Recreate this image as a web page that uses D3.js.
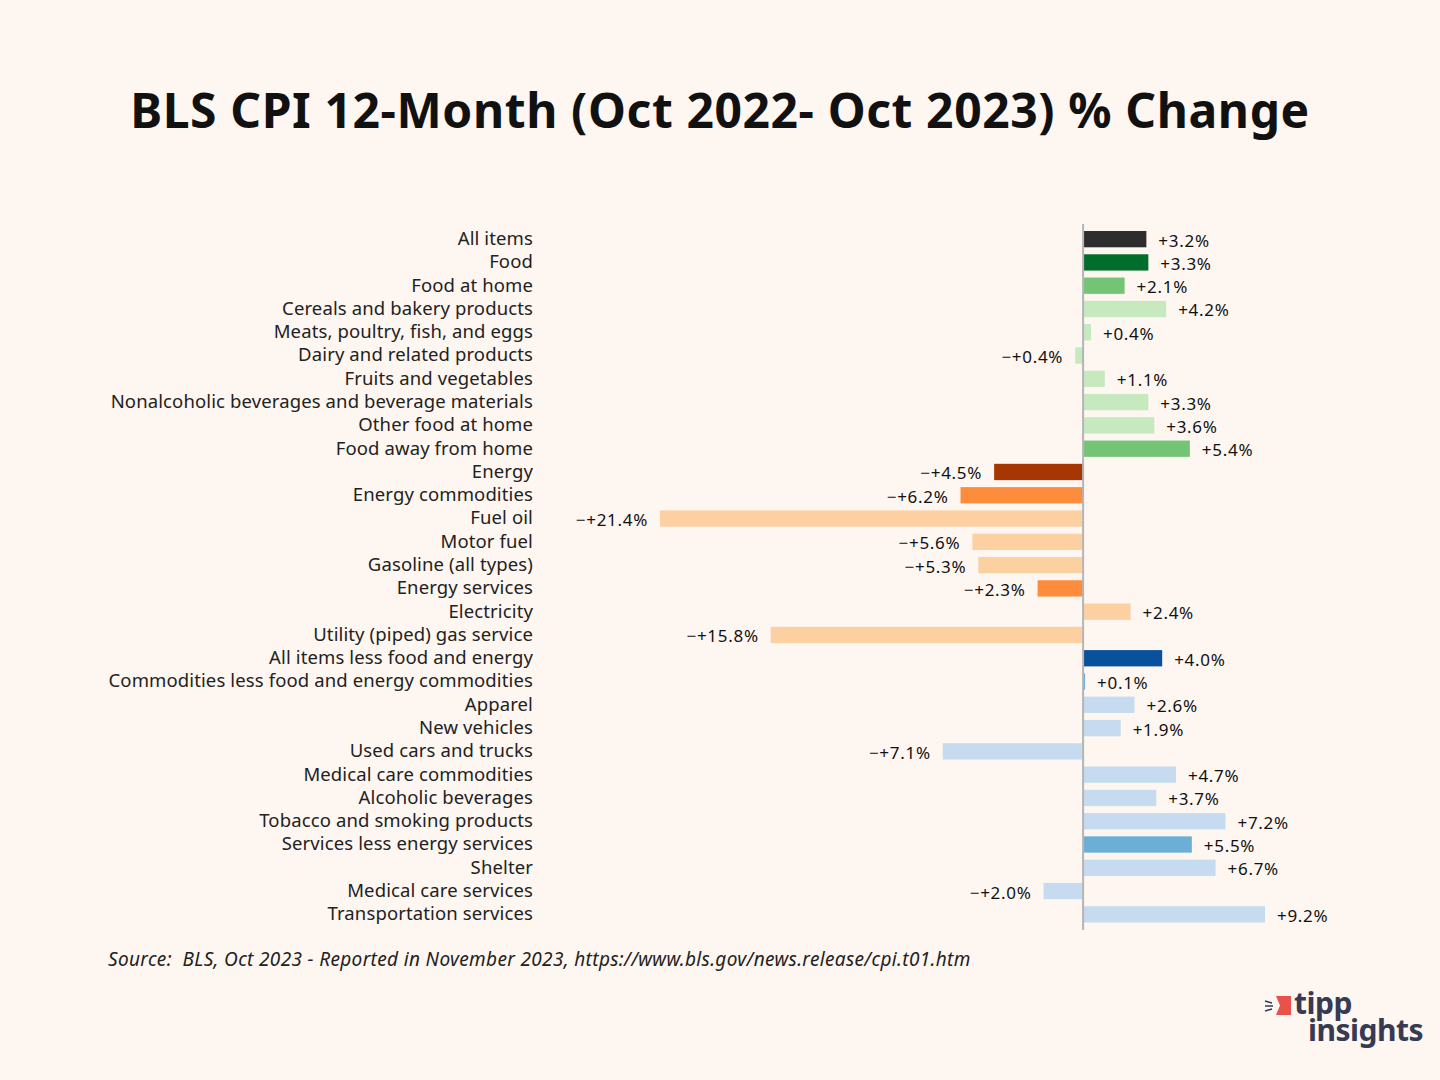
<!DOCTYPE html>
<html>
<head>
<meta charset="utf-8">
<title>BLS CPI 12-Month % Change</title>
<script src="https://cdnjs.cloudflare.com/ajax/libs/d3/7.8.5/d3.min.js"></script>
<style>
  body { margin: 0; background: #fef6f0; }
  svg { display: block; font-family: "Noto Sans", sans-serif; }
</style>
</head>
<body>
<script>
// categories, top to bottom
var categories = [
  'All items', 'Food', 'Food at home', 'Cereals and bakery products',
  'Meats, poultry, fish, and eggs', 'Dairy and related products',
  'Fruits and vegetables', 'Nonalcoholic beverages and beverage materials',
  'Other food at home', 'Food away from home', 'Energy', 'Energy commodities',
  'Fuel oil', 'Motor fuel', 'Gasoline (all types)', 'Energy services',
  'Electricity', 'Utility (piped) gas service', 'All items less food and energy',
  'Commodities less food and energy commodities', 'Apparel', 'New vehicles',
  'Used cars and trucks', 'Medical care commodities', 'Alcoholic beverages',
  'Tobacco and smoking products', 'Services less energy services', 'Shelter',
  'Medical care services', 'Transportation services'
];
var values = [
  3.2, 3.3, 2.1, 4.2, 0.4, -0.4, 1.1, 3.3, 3.6, 5.4,
  -4.5, -6.2, -21.4, -5.6, -5.3, -2.3, 2.4, -15.8,
  4.0, 0.1, 2.6, 1.9, -7.1, 4.7, 3.7, 7.2, 5.5, 6.7, -2.0, 9.2
];
var colors = [
  '#2d2d2d', '#006d2c', '#74c476', '#c7e9c0', '#c7e9c0', '#c7e9c0', '#c7e9c0', '#c7e9c0', '#c7e9c0', '#74c476',
  '#a63603', '#fd8d3c', '#fdd0a2', '#fdd0a2', '#fdd0a2', '#fd8d3c', '#fdd0a2', '#fdd0a2',
  '#08519c', '#6baed6', '#c6dbef', '#c6dbef', '#c6dbef', '#c6dbef', '#c6dbef', '#c6dbef', '#6baed6', '#c6dbef', '#c6dbef', '#c6dbef'
];

var W = 1440, H = 1080;
var svg = d3.select('body').append('svg')
  .attr('width', W)
  .attr('height', H);

svg.append('rect').attr('width', W).attr('height', H).attr('fill', '#fef6f0');

// title
svg.append('text')
  .attr('x', 720).attr('y', 128)
  .attr('text-anchor', 'middle')
  .attr('font-size', 48)
  .attr('font-weight', 'bold')
  .attr('letter-spacing', 0.6)
  .attr('fill', '#111')
  .text('BLS CPI 12-Month (Oct 2022- Oct 2023) % Change');

var x = d3.scaleLinear().domain([-21.4, 9.2]).range([660, 1265]);
var y = d3.scaleBand().domain(categories).range([227.5, 926]).paddingInner(0.3).paddingOuter(0.15);

var fmt = function(v) {
  var s = '+' + Math.abs(v).toFixed(1) + '%';
  return v < 0 ? '\u2212' + s : s;
};

var rows = categories.map(function(c, i) { return { name: c, v: values[i], color: colors[i] }; });

svg.selectAll('rect.bar')
  .data(rows)
  .enter().append('rect')
  .attr('class', 'bar')
  .attr('x', function(d) { return Math.min(x(0), x(d.v)); })
  .attr('y', function(d) { return y(d.name); })
  .attr('width', function(d) { return Math.abs(x(d.v) - x(0)); })
  .attr('height', y.bandwidth())
  .attr('fill', function(d) { return d.color; });

// zero line
svg.append('line')
  .attr('x1', x(0)).attr('x2', x(0))
  .attr('y1', 224).attr('y2', 930)
  .attr('stroke', '#b5b5b5').attr('stroke-width', 2);

// category labels
svg.selectAll('text.cat')
  .data(rows)
  .enter().append('text')
  .attr('class', 'cat')
  .attr('x', 533)
  .attr('y', function(d) { return y(d.name) + y.bandwidth() / 2; })
  .attr('dy', '0.32em')
  .attr('text-anchor', 'end')
  .attr('font-size', 18.5)
  .attr('letter-spacing', 0.12)
  .attr('fill', '#222')
  .text(function(d) { return d.name; });

// value labels
svg.selectAll('text.val')
  .data(rows)
  .enter().append('text')
  .attr('class', 'val')
  .attr('x', function(d) { return d.v < 0 ? x(d.v) - 12 : x(d.v) + 12; })
  .attr('y', function(d) { return y(d.name) + y.bandwidth() / 2 + 2; })
  .attr('dy', '0.32em')
  .attr('text-anchor', function(d) { return d.v < 0 ? 'end' : 'start'; })
  .attr('font-size', 17)
  .attr('letter-spacing', 0.7)
  .attr('fill', '#111')
  .text(function(d) { return fmt(d.v); });

// source
svg.append('text')
  .attr('x', 108).attr('y', 966)
  .attr('font-size', 19)
  .attr('font-style', 'italic')
  .attr('letter-spacing', 0.35)
  .attr('fill', '#222')
  .style('white-space', 'pre')
  .text('Source:  BLS, Oct 2023 - Reported in November 2023, https://www.bls.gov/news.release/cpi.t01.htm');

// logo
var logo = svg.append('g').attr('transform', 'translate(1264,994)');
logo.append('path')
  .attr('d', 'M12,2 L27,2 L27,21 L12,21 L16,11.5 Z')
  .attr('fill', '#e8524a');
logo.append('path')
  .attr('d', 'M1,7 L8,9 M1,12 L9,12 M1,17 L8,15')
  .attr('stroke', '#363a53').attr('stroke-width', 1.6);
var logoText = logo.append('text')
  .attr('font-size', 30).attr('font-weight', 'bold')
  .attr('fill', '#363a53')
  .attr('letter-spacing', -0.5);
logoText.append('tspan').attr('x', 30).attr('y', 20).text('tipp');
logoText.append('tspan').attr('x', 44).attr('y', 47).text('insights');
</script>
</body>
</html>
